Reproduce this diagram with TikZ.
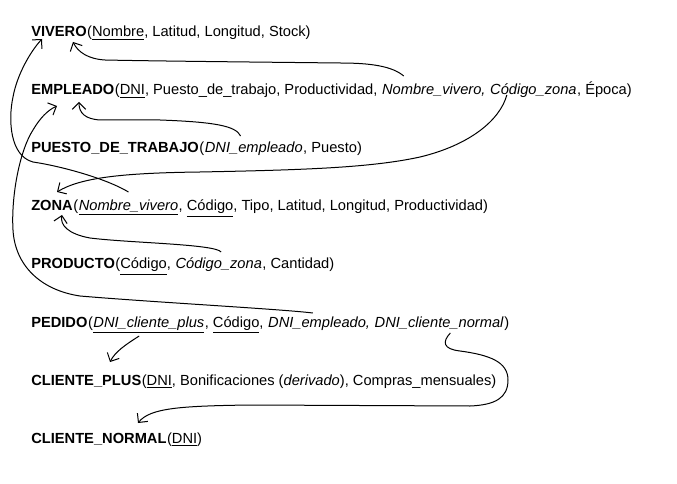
\documentclass[tikz,border=0pt]{standalone}
\usepackage{fontspec}
\setmainfont{Liberation Sans}
\usetikzlibrary{arrows.meta, positioning}

\begin{document}
\begin{tikzpicture}[
  x=0.75pt, y=-0.75pt,
  tbl/.style={inner sep=0pt, anchor=base west, font=\fontsize{11}{13}\selectfont\bfseries},
  att/.style={inner sep=0pt, font=\fontsize{11}{13}\selectfont},
  fk/.style={-{Straight Barb[length=5pt,width=10pt]}, line width=0.75pt}
]
  \useasboundingbox (0,0) rectangle (677,484);

  \node[tbl] (vivero) at (31,37) {VIVERO};
  \node[att, base right=0pt of vivero] (viveroA) {(\underline{Nombre}, Latitud, Longitud, Stock)};

  \node[tbl] (empleado) at (31,95) {EMPLEADO};
  \node[att, base right=0pt of empleado] (empA) {(\underline{DNI}, Puesto\_de\_trabajo, Productividad,};
  \node[att, base right=0pt of empA] (empNV) {\ \textit{Nombre\_vivero,}};
  \node[att, base right=0pt of empNV] (empCZ) {\ \textit{Código\_zona}};
  \node[att, base right=0pt of empCZ] (empB) {, Época)};

  \node[tbl] (puesto) at (31,153) {PUESTO\_DE\_TRABAJO};
  \node[att, base right=0pt of puesto] (puestoA) {(};
  \node[att, base right=0pt of puestoA] (puestoDNI) {\textit{DNI\_empleado}};
  \node[att, base right=0pt of puestoDNI] (puestoB) {, Puesto)};

  \node[tbl] (zona) at (31,211) {ZONA};
  \node[att, base right=0pt of zona] (zonaA) {(};
  \node[att, base right=0pt of zonaA] (zonaNV) {\underline{\textit{Nombre\_vivero}}};
  \node[att, base right=0pt of zonaNV] (zonaB) {, \underline{Código}, Tipo, Latitud, Longitud, Productividad)};

  \node[tbl] (producto) at (31,269) {PRODUCTO};
  \node[att, base right=0pt of producto] (prodA) {(\underline{Código},};
  \node[att, base right=0pt of prodA] (prodCZ) {\ \textit{Código\_zona}};
  \node[att, base right=0pt of prodCZ] (prodB) {, Cantidad)};

  \node[tbl] (pedido) at (31,327) {PEDIDO};
  \node[att, base right=0pt of pedido] (pedA) {(};
  \node[att, base right=0pt of pedA] (pedCP) {\underline{\textit{DNI\_cliente\_plus}}};
  \node[att, base right=0pt of pedCP] (pedB) {, \underline{Código},};
  \node[att, base right=0pt of pedB] (pedEmp) {\ \textit{DNI\_empleado,}};
  \node[att, base right=0pt of pedEmp] (pedCN) {\ \textit{DNI\_cliente\_normal}};
  \node[att, base right=0pt of pedCN] (pedD) {)};

  \node[tbl] (plus) at (31,385) {CLIENTE\_PLUS};
  \node[att, base right=0pt of plus] (plusA) {(\underline{DNI}, Bonificaciones (\textit{derivado}), Compras\_mensuales)};

  \node[tbl] (normal) at (31,443) {CLIENTE\_NORMAL};
  \node[att, base right=0pt of normal] (normalA) {(\underline{DNI})};

  \draw[fk] ([shift={(26,-19)}]empNV.base west) .. controls (392,66) and (370,63) .. (340,63)
    .. controls (250,62) and (150,61) .. (105,60) .. controls (88,59) and (78,52) .. ([shift={(42,5)}]vivero.base west);
  \draw[fk] ([shift={(21,0)}]empCZ.base west) .. controls (500,120) and (470,145) .. (420,157)
    .. controls (370,168) and (300,170) .. (200,172) .. controls (120,173) and (80,178) .. ([shift={(26,-19)}]zona.base west);
  \draw[fk] ([shift={(36,-17)}]puestoDNI.base west) .. controls (236,126) and (215,122) .. (160,120)
    -- (100,120) .. controls (85,119) and (79,113) .. ([shift={(48,7)}]empleado.base west);
  \draw[fk] ([shift={(50,-19)}]zonaNV.base west) .. controls (105,178) and (60,166) .. (33,162)
    .. controls (10,156) and (8,120) .. (13,97) .. controls (17,75) and (30,52) .. ([shift={(11,2)}]vivero.base west);
  \draw[fk] ([shift={(50,-17)}]prodCZ.base west) .. controls (215,244) and (130,243) .. (90,238)
    .. controls (68,234) and (60,225) .. ([shift={(31,4)}]zona.base west);
  \draw[fk] ([shift={(49,-14)}]pedEmp.base west) .. controls (280,309) and (150,302) .. (80,296)
    .. controls (40,290) and (15,265) .. (13,230) .. controls (11,195) and (20,150) .. (33,130)
    .. controls (40,118) and (48,110) .. ([shift={(26,11)}]empleado.base west);
  \draw[fk] ([shift={(46,9)}]pedCP.base west) .. controls (125,345) and (115,352) .. ([shift={(79,-23)}]plus.base west);
  \draw[fk] ([shift={(80,6)}]pedCN.base west) .. controls (442,342) and (443,349) .. (460,351)
    .. controls (490,355) and (508,362) .. (508,380) .. controls (508,398) and (495,405) .. (470,406)
    -- (250,405) .. controls (180,406) and (150,408) .. ([shift={(107,-20)}]normal.base west);
\end{tikzpicture}
\end{document}
